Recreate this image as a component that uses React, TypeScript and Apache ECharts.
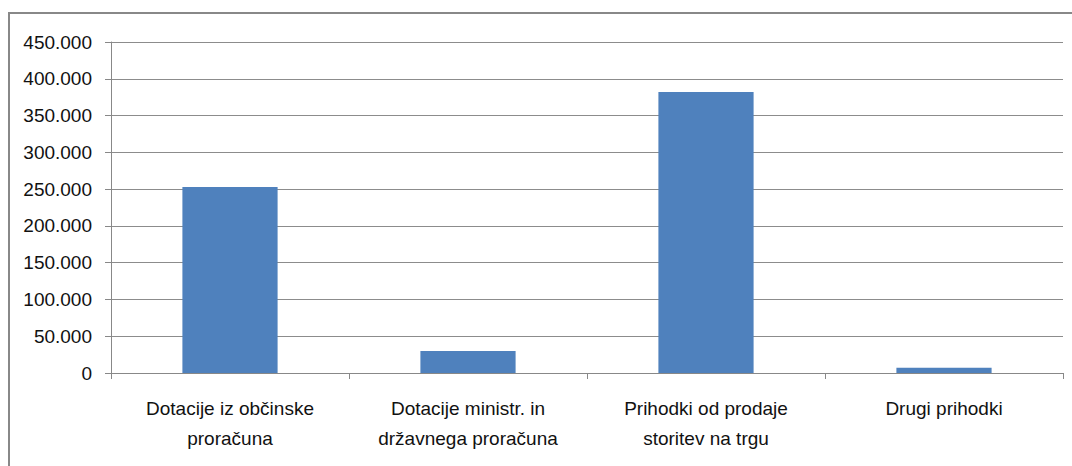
import React, { useEffect, useRef } from "react";
import * as echarts from "echarts";

const categories = [
  "Dotacije iz občinske\nproračuna",
  "Dotacije ministr. in\ndržavnega proračuna",
  "Prihodki od prodaje\nstoritev na trgu",
  "Drugi prihodki",
];
const values = [253000, 30000, 382000, 7000];
const yMin = 0;
const yMax = 450000;
const yInterval = 50000;

const FONT = "'Liberation Sans', sans-serif";

function fmt(v: number): string {
  return String(Math.round(v)).replace(/\B(?=(\d{3})+(?!\d))/g, ".");
}

export default function App() {
  const ref = useRef<HTMLDivElement>(null);
  useEffect(() => {
    if (!ref.current) return;
    const chart = echarts.init(ref.current, undefined, { renderer: "svg" });
    chart.setOption({
      animation: false,
      backgroundColor: "#ffffff",
      graphic: [
        {
          type: "rect",
          shape: { x: 9, y: 13, width: 1100, height: 500 },
          style: { fill: "none", stroke: "#888888", lineWidth: 2 },
          silent: true,
        },
      ],
      grid: { left: 111, right: 9, top: 42, bottom: 93 },
      xAxis: {
        type: "category",
        data: categories,
        axisLine: { show: true, lineStyle: { color: "#888888", width: 1 } },
        axisTick: { show: true, alignWithLabel: false, length: 6, lineStyle: { color: "#888888" } },
        axisLabel: {
          color: "#111111",
          fontFamily: FONT,
          fontSize: 19,
          lineHeight: 30,
          margin: 20,
          interval: 0,
        },
      },
      yAxis: {
        type: "value",
        min: yMin,
        max: yMax,
        interval: yInterval,
        axisLine: { show: true, lineStyle: { color: "#888888", width: 1 } },
        axisTick: { show: true, length: 6, lineStyle: { color: "#888888" } },
        splitLine: { show: true, lineStyle: { color: "#8c8c8c", width: 1 } },
        axisLabel: {
          color: "#111111",
          fontFamily: FONT,
          fontSize: 19,
          margin: 19,
          formatter: (v: number) => fmt(v),
        },
      },
      series: [
        {
          type: "bar",
          data: values,
          barWidth: "40%",
          itemStyle: { color: "#4F81BD" },
        },
      ],
    });
    return () => chart.dispose();
  }, []);
  return (
    <div
      ref={ref}
      style={{ position: "fixed", left: 0, top: 0, width: 1072, height: 466 }}
    />
  );
}
